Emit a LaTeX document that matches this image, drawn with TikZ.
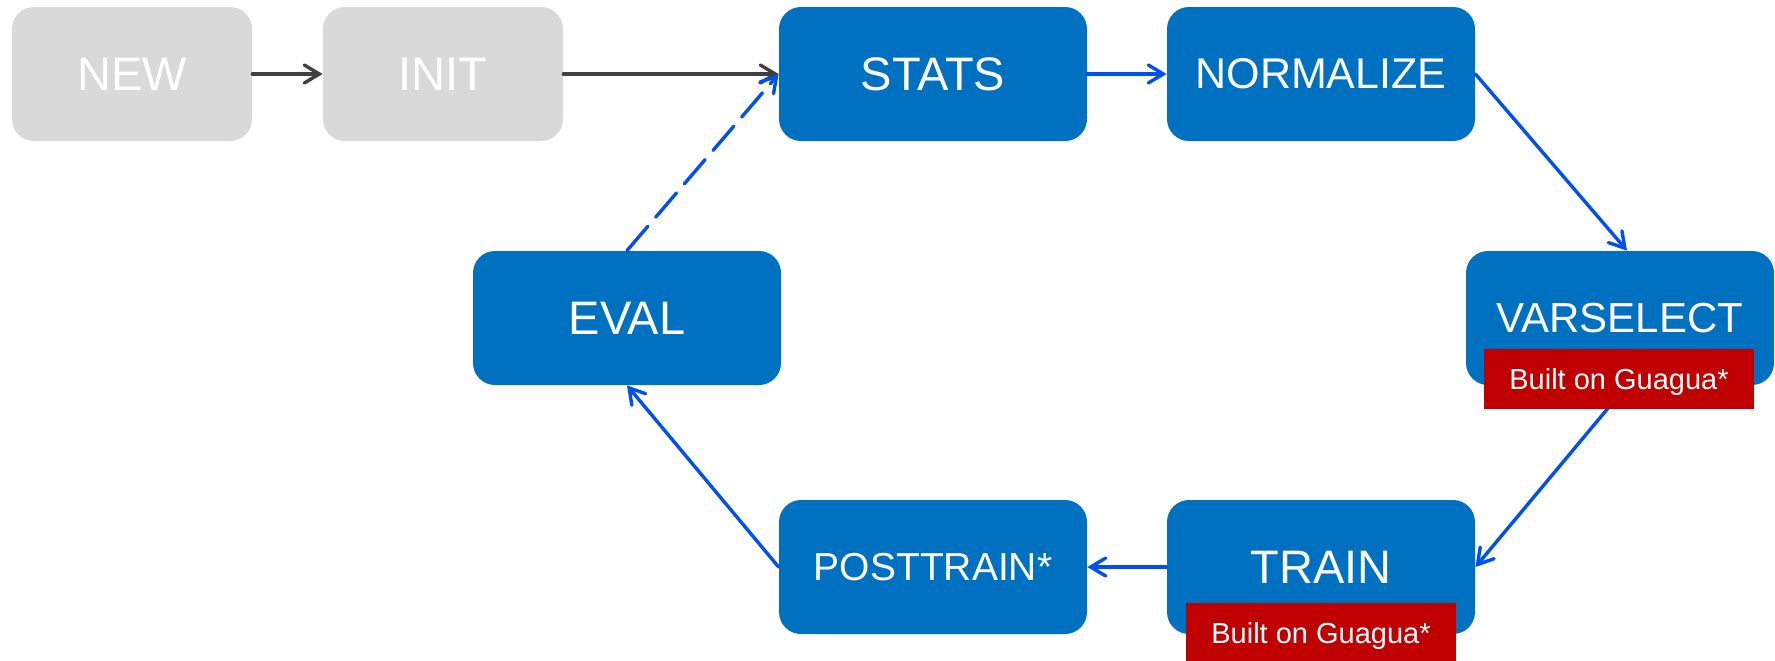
\documentclass[tikz,border=0pt]{standalone}
\usepackage{fontspec}
\setmainfont{Liberation Sans}
\usetikzlibrary{arrows.meta,calc}
\definecolor{boxblue}{HTML}{0070C0}
\definecolor{boxgray}{HTML}{D9D9D9}
\definecolor{tagred}{HTML}{C00000}
\definecolor{arrblue}{HTML}{0050EF}
\definecolor{arrgray}{HTML}{404040}
\begin{document}
\begin{tikzpicture}[x=0.5pt,y=-0.5pt,
  state/.style={rectangle, rounded corners=11pt, fill=boxblue, text=white,
    minimum width=154pt, minimum height=67pt, inner sep=0pt,
    font=\fontsize{23.5}{28}\selectfont},
  gstate/.style={state, fill=boxgray, minimum width=120pt},
  tag/.style={rectangle, fill=tagred, text=white, minimum width=135pt,
    minimum height=30pt, inner sep=0pt, text depth=0pt,
    font=\fontsize{14.5}{17}\selectfont},
  conn/.style={-{Straight Barb[length=7.5pt,width=9pt,line cap=round]},
    line width=1.7pt, line cap=round, draw=arrblue},
  gconn/.style={conn, draw=arrgray}]
\useasboundingbox (0,0) rectangle (1775,660);
% states
\node[gstate] (new)  at (132,74) {NEW};
\node[gstate] (init) at (443,74) {INIT};
\node[state] (stats) at (933,74) {STATS};
\node[state, font=\fontsize{21.5}{26}\selectfont] (norm) at (1321,74) {NORMALIZE};
\node[state, font=\fontsize{21}{26}\selectfont] (var) at (1620,318) {VARSELECT};
\node[state] (eval) at (627,318) {EVAL};
\node[state, font=\fontsize{19.5}{24}\selectfont] (post) at (933,567) {POSTTRAIN*};
\node[state] (train) at (1321,567) {TRAIN};
% connectors
\draw[gconn] (new) -- (init);
\draw[gconn] (init) -- (stats);
\draw[conn] (stats) -- (norm);
\draw[conn] (norm.east) -- ([xshift=3.5pt]var.north);
\draw[conn] ([xshift=3.5pt]var.south) -- (train.east);
\draw[conn] (train) -- (post);
\draw[conn] (post.west) -- (eval.south);
\draw[conn, dash pattern=on 16pt off 6pt] (eval.north) -- (stats.west);
% tags
\node[tag] (tagvar) at (1619,379) {Built on Guagua*};
\node[tag] (tagtrain) at (1321,633) {Built on Guagua*};
\end{tikzpicture}
\end{document}
